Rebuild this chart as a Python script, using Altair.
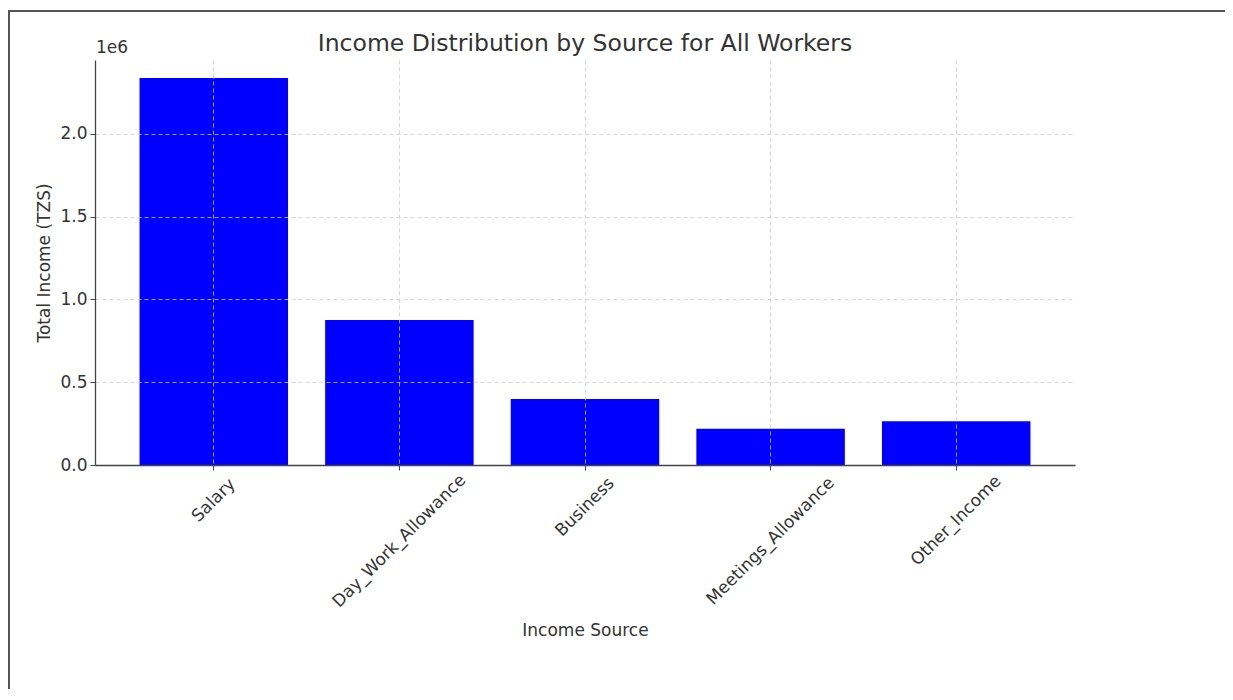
import altair as alt
import pandas as pd

sources = ["Salary", "Day_Work_Allowance", "Business", "Meetings_Allowance", "Other_Income"]
totals = [2338000, 876000, 399000, 219000, 264000]
y_ticks = [0, 500000, 1000000, 1500000, 2000000]
chart_title = "Income Distribution by Source for All Workers"

df = pd.DataFrame({"source": sources, "total": totals})

FONT = "DejaVu Sans"
TXT = "#333333"
AX = "#444444"
W, H = 980, 405

x_enc = alt.X(
    "source:N",
    sort=sources,
    scale=alt.Scale(paddingInner=0.2, paddingOuter=0.24),
    axis=alt.Axis(
        title="Income Source",
        labels=False,
        ticks=True,
        tickSize=5,
        tickColor=AX,
        bandPosition=0.5,
        grid=True,
        gridColor="#cccccc",
        gridDash=[4, 3],
        gridWidth=0.8,
        domainColor=AX,
        domainWidth=1.3,
        titleFont=FONT,
        titleFontSize=17,
        titleFontWeight="normal",
        titleColor=TXT,
        titlePadding=152,
        zindex=1,
    ),
)

bars = alt.Chart(df).mark_bar(color="#0000FF").encode(
    x=x_enc,
    y=alt.Y(
        "total:Q",
        scale=alt.Scale(domain=[0, 2447000], nice=False, zero=True),
        axis=alt.Axis(
            title="Total Income (TZS)",
            values=y_ticks,
            labelExpr="format(datum.value / 1000000, '.1f')",
            tickSize=5,
            tickColor=AX,
            grid=True,
            gridColor="#cccccc",
            gridDash=[4, 3],
            gridWidth=0.8,
            domainColor=AX,
            domainWidth=1.3,
            labelFont=FONT,
            labelFontSize=17,
            labelColor=TXT,
            labelPadding=3,
            titleFont=FONT,
            titleFontSize=17,
            titleFontWeight="normal",
            titleColor=TXT,
            titlePadding=6,
            zindex=1,
        ),
    ),
)

labels = alt.Chart(df).transform_calculate(
    ly=f"{H + 9} + 0.354 * (length(datum.source) * 9.6 + 17)"
).mark_text(
    angle=315, align="center", baseline="middle", font=FONT, fontSize=17, color=TXT
).encode(
    x=alt.X("source:N", sort=sources),
    y=alt.Y("ly:Q", scale=None),
    text="source:N",
)

offset_lbl = alt.Chart(pd.DataFrame({"t": ["1e6"]})).mark_text(
    align="left", baseline="middle", font=FONT, fontSize=17, color=TXT
).encode(x=alt.value(1), y=alt.value(-12), text="t:N")

title_txt = alt.Chart(pd.DataFrame({"t": [chart_title]})).mark_text(
    align="center", baseline="alphabetic", font=FONT, fontSize=23.5, color=TXT
).encode(x=alt.value(W / 2), y=alt.value(-9), text="t:N")

border_left = alt.Chart(pd.DataFrame({"k": [0]})).mark_rule(color="#555555", strokeWidth=2).encode(
    x=alt.value(-86), y=alt.value(-50), y2=alt.value(700)
)
border_top = alt.Chart(pd.DataFrame({"k": [0]})).mark_rule(color="#555555", strokeWidth=2).encode(
    x=alt.value(-87), x2=alt.value(1200), y=alt.value(-49)
)

chart = alt.layer(bars, labels, offset_lbl, title_txt, border_left, border_top).properties(
    width=W,
    height=H,
    padding={"left": 87, "top": 52, "right": 150, "bottom": 224},
    autosize=alt.AutoSizeParams(type="none"),
).configure_view(stroke=None)

chart.save("out.html", embed_options={"renderer": "svg", "actions": False})
